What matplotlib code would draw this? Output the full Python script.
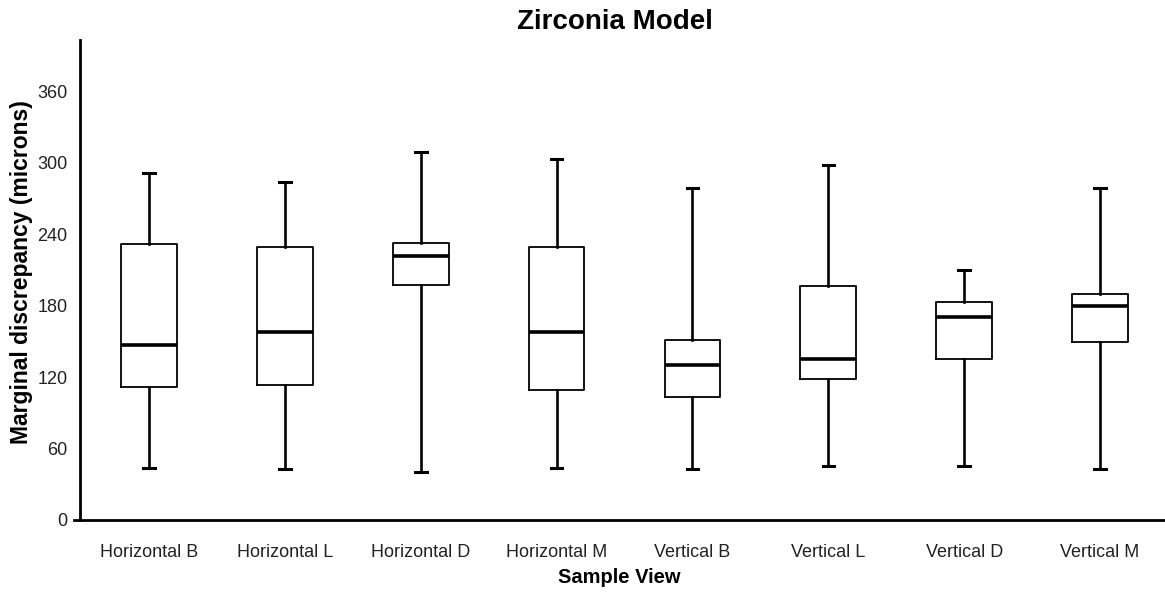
import numpy as np
import matplotlib.pyplot as plt

plt.rcParams['font.family'] = ['Liberation Sans', 'DejaVu Sans']

# values (microns)
views = ['Horizontal B', 'Horizontal L', 'Horizontal D', 'Horizontal M',
         'Vertical B', 'Vertical L', 'Vertical D', 'Vertical M']
whisker_low = [43.6, 42.5, 40.0, 43.9, 42.8, 45.3, 45.3, 42.5]
q1 = [112.0, 113.0, 197.7, 109.3, 103.2, 118.3, 134.8, 149.3]
median = [147.0, 157.5, 221.5, 158.0, 129.8, 135.3, 170.6, 179.8]
q3 = [232.0, 229.0, 232.4, 229.6, 151.0, 196.6, 182.9, 189.9]
whisker_high = [291.0, 284.0, 309.0, 303.5, 278.8, 298.0, 210.3, 278.8]
yticks = [0, 60, 120, 180, 240, 300, 360]

stats = []
for i, name in enumerate(views):
    stats.append({'label': name, 'whislo': whisker_low[i], 'q1': q1[i],
                  'med': median[i], 'q3': q3[i], 'whishi': whisker_high[i],
                  'fliers': []})

fig = plt.figure(figsize=(11.65, 5.95), dpi=100)
ax = fig.add_axes([74 / 1165, 75 / 595, 1091 / 1165, 480 / 595])

pos = np.arange(1, len(views) + 1)
ax.bxp(stats, positions=pos, widths=0.41, capwidths=0.085, showfliers=False,
       boxprops=dict(color='black', linewidth=1.3),
       whiskerprops=dict(color='black', linewidth=1.9),
       capprops=dict(color='black', linewidth=2.2),
       medianprops=dict(color='black', linewidth=2.6))

ax.set_xlim(0.448, 8.478)
ax.set_ylim(0, 403)
ax.set_yticks(yticks)
ax.set_xticks(pos)
ax.set_xticklabels(views, fontsize=13, color='#222222')
ax.tick_params(axis='y', labelsize=13, labelcolor='#222222', length=0, pad=9)
ax.tick_params(axis='x', length=0, pad=17)

ax.spines['top'].set_visible(False)
ax.spines['right'].set_visible(False)
ax.spines['left'].set_position(('data', 0.492))
ax.spines['left'].set_linewidth(2.0)
ax.spines['bottom'].set_linewidth(2.0)

fig.text(615 / 1165, 1 - 22 / 595, 'Zirconia Model', fontsize=20,
         fontweight='bold', ha='center', va='center')
ax.set_xlabel('Sample View', fontsize=14.5, fontweight='bold', labelpad=5)
fig.text(22 / 1165, 1 - 272 / 595, 'Marginal discrepancy (microns)', rotation=90,
         fontsize=16.5, fontweight='bold', ha='center', va='center')

fig.savefig('out.png', dpi=100)
